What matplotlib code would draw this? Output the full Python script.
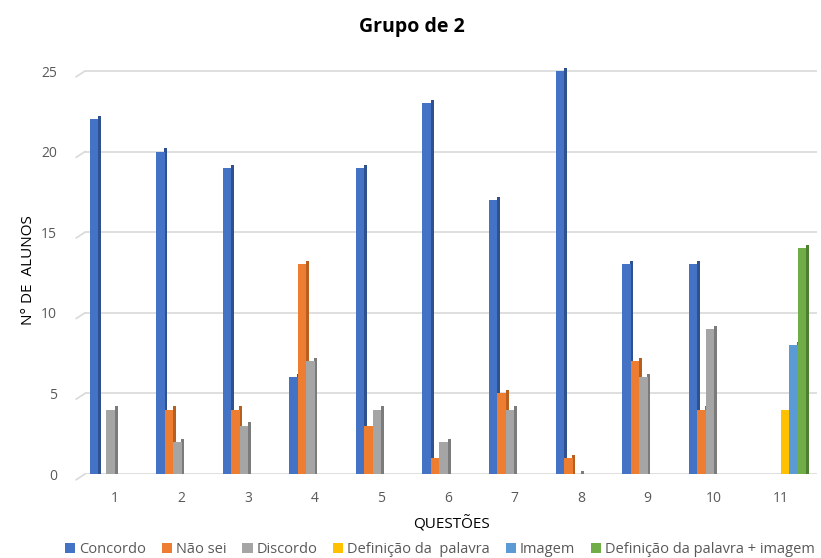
import matplotlib.pyplot as plt
import numpy as np

questoes = ['1', '2', '3', '4', '5', '6', '7', '8', '9', '10', '11']
nan = np.nan
concordo = [22, 20, 19, 6, 19, 23, 17, 25, 13, 13, nan]
nao_sei = [0, 4, 4, 13, 3, 1, 5, 1, 7, 4, nan]
discordo = [4, 2, 3, 7, 4, 2, 4, 0, 6, 9, nan]
def_palavra = [nan] * 10 + [4]
imagem = [nan] * 10 + [8]
def_imagem = [nan] * 10 + [14]

series = [('Concordo', concordo), ('Não sei', nao_sei), ('Discordo', discordo),
          ('Definição da  palavra', def_palavra), ('Imagem', imagem),
          ('Definição da palavra + imagem', def_imagem)]
cores = ['#4472C4', '#ED7D31', '#A5A5A5', '#FFC000', '#5B9BD5', '#70AD47']
lados = ['#2F528F', '#B85F1F', '#7B7B7B', '#BF9000', '#3A75A8', '#4E7F30']

plt.rcParams['font.family'] = ['Open Sans', 'DejaVu Sans']

fig = plt.figure(figsize=(8.21, 5.58), dpi=100)
ax = fig.add_axes([0.1035, 0.1505, 0.892, 0.7309])

x = np.arange(1, len(questoes) + 1)
slot = 0.127
face = 0.127
lado = 0.045
for i, (nome, vals) in enumerate(series):
    pos = x + (i - 2.5) * slot
    v = np.array(vals, dtype=float)
    # lado escuro (efeito 3D)
    ax.bar(pos + face / 2 + lado / 2 - 0.004, v + 0.2, width=lado, color=lados[i], zorder=2)
    ax.bar(pos, v, width=face, color=cores[i], label=nome, zorder=3)

ax.set_xlim(0.55, 11.55)
ax.set_ylim(0, 25.3)
ax.set_yticks([0, 5, 10, 15, 20, 25])
ax.set_xticks(x)
ax.set_xticklabels(questoes)
for t in [0, 5, 10, 15, 20, 25]:
    ax.axhline(t, color='#D9D9D9', lw=1.2, zorder=1)
    ax.plot([0.42, 0.55], [t - 0.35, t], color='#D9D9D9', lw=1.2, clip_on=False, zorder=1)
for s in ax.spines.values():
    s.set_visible(False)
ax.tick_params(length=0, colors='#595959', labelsize=10)
ax.tick_params(axis='y', pad=20)
ax.tick_params(axis='x', pad=12)

fig.suptitle('Grupo de 2', x=0.502, y=0.97, fontsize=14, fontweight='bold')
ax.set_xlabel('QUESTÕES', fontsize=11, labelpad=7)
ax.set_ylabel('N° DE  ALUNOS', fontsize=11, labelpad=4)

leg = fig.legend(loc='lower center', bbox_to_anchor=(0.536, -0.022), ncol=6, frameon=False,
                 fontsize=10.5, handlelength=0.7, handleheight=0.7, handletextpad=0.25,
                 columnspacing=1.1, labelcolor='#595959')

fig.savefig('out.png', dpi=100)
